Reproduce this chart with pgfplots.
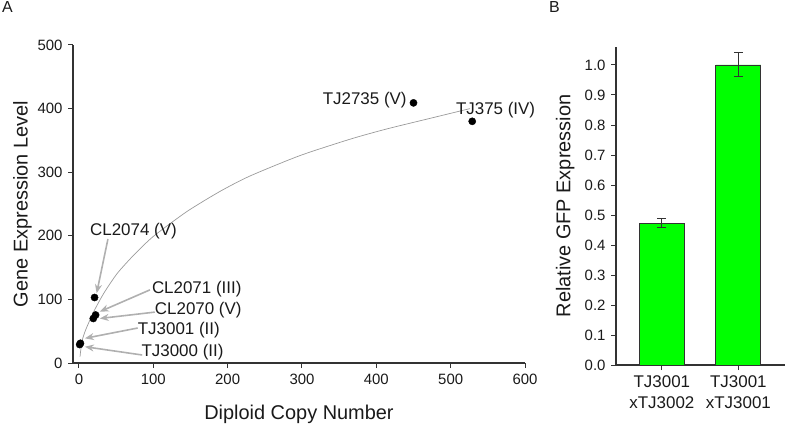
\documentclass[border=0pt]{standalone}
\usepackage{pgfplots}
\pgfplotsset{compat=1.18}
\usepackage{fontspec}
\setmainfont{Liberation Sans}
\usetikzlibrary{arrows.meta}
\definecolor{axcol}{HTML}{333333}
\definecolor{txtcol}{HTML}{1A1A1A}
\definecolor{arrcol}{HTML}{B0B0B0}
\definecolor{curvecol}{HTML}{9A9A9A}
\definecolor{barfill}{HTML}{00FF00}
\begin{document}
\begin{tikzpicture}[x=1bp,y=1bp]
\path[use as bounding box] (0,0) rectangle (785,426);
\node[anchor=west,font=\fontsize{16}{18}\selectfont,text=txtcol,inner sep=0] at (2,419) {A};
\node[anchor=west,font=\fontsize{16}{18}\selectfont,text=txtcol,inner sep=0] at (549,419) {B};
% Panel A
\begin{axis}[
  at={(73bp,63bp)}, anchor=south west,
  scale only axis, width=452bp, height=318bp,
  xmin=-8, xmax=600, ymin=0, ymax=500,
  axis lines=left, axis line style={-, axcol, line width=1.1pt},
  tick align=outside, major tick length=5bp,
  tick style={axcol, line width=1pt},
  xtick={0,100,...,600}, ytick={0,100,...,500},
  /pgf/number format/assume math mode=true,
  tick label style={font=\fontsize{15}{18}\selectfont, text=txtcol},
  xticklabel style={yshift=-3bp},
  yticklabel style={xshift=-2bp},
  xlabel={Diploid Copy Number}, ylabel={Gene Expression Level},
  label style={font=\fontsize{20}{24}\selectfont, text=txtcol},
  xlabel style={at={(axis description cs:0.5,-0.163)}, anchor=center},
  ylabel style={at={(axis description cs:-0.112,0.5)}, anchor=center},
  clip=false,
]
\addplot[curvecol, line width=0.7pt, smooth, tension=0.4] coordinates {
 (1.5,10) (2.2,18) (4.5,36) (9,52) (20,81) (33.6,110) (51.6,141) (74,170)
 (100,199) (145,238) (190,270) (230,294) (297,326) (365,352)
 (414,368) (477,386) (526,400)};
\addplot[only marks, mark=*, mark size=3.6bp, black] coordinates {
 (1,29) (2,31) (19.3,70) (22.4,75.5) (21,103) (450,409) (529,380)};
\begin{scope}[arrcol, line width=1.6pt, -{Stealth[length=9bp,width=7bp]}]
\draw (axis cs:39,195) -- (axis cs:23.8,109.6);
\draw (axis cs:95.5,115) -- (axis cs:28,80.7);
\draw (axis cs:102,80) -- (axis cs:28,70);
\draw (axis cs:79,55) -- (axis cs:8,38.8);
\draw (axis cs:85,12.6) -- (axis cs:8,25.6);
\end{scope}
\begin{scope}[every node/.style={font=\fontsize{17}{20}\selectfont, text=txtcol, inner sep=0}]
\node[anchor=west] at (axis cs:14.8,207.5) {CL2074 (V)};
\node[anchor=west] at (axis cs:98,116) {CL2071 (III)};
\node[anchor=west] at (axis cs:102,83) {CL2070 (V)};
\node[anchor=west] at (axis cs:79,52) {TJ3001 (II)};
\node[anchor=west] at (axis cs:84,17) {TJ3000 (II)};
\node[anchor=east] at (axis cs:441,413) {TJ2735 (V)};
\node[anchor=west] at (axis cs:507,398) {TJ375 (IV)};
\end{scope}
\end{axis}
% Panel B
\begin{axis}[
  at={(616bp,61bp)}, anchor=south west,
  scale only axis, width=169bp, height=318bp,
  xmin=-0.6, xmax=1.61, ymin=0, ymax=1.06,
  axis lines=left, axis line style={-, axcol, line width=1.1pt},
  tick align=outside, major tick length=5bp,
  tick style={axcol, line width=1pt},
  xtick={0,1}, xticklabels={{TJ3001\\xTJ3002},{TJ3001\\xTJ3001}},
  ytick={0,0.1,...,1.0},
  /pgf/number format/fixed, /pgf/number format/fixed zerofill, /pgf/number format/precision=1,
  /pgf/number format/assume math mode=true,
  yticklabel style={font=\fontsize{15}{18}\selectfont, text=txtcol, xshift=-2bp},
  xticklabel style={font=\fontsize{17}{21}\selectfont, text=txtcol, align=center, yshift=-2bp},
  ylabel={Relative GFP Expression},
  ylabel style={font=\fontsize{20}{24}\selectfont, text=txtcol, at={(axis description cs:-0.30,0.5)}, anchor=center},
  clip=false,
]
\addplot[ybar, bar width=45bp, fill=barfill, draw=axcol, line width=0.9pt,
  error bars/.cd, y dir=both, y explicit,
  error bar style={axcol, line width=1pt},
  error mark options={rotate=90, mark size=4.5bp, axcol, line width=1pt}]
  coordinates {(0,0.473) +- (0,0.015) (1,1.0) +- (0,0.04)};
\end{axis}
\end{tikzpicture}
\end{document}
